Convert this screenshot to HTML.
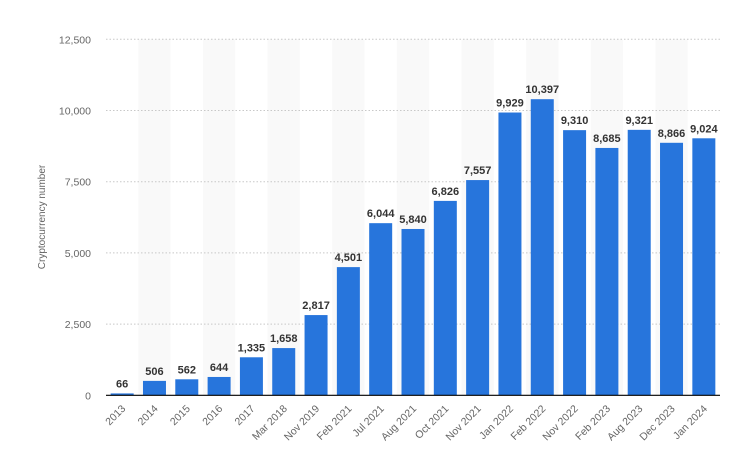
<!DOCTYPE html>
<html><head><meta charset="utf-8"><style>
body{margin:0;background:#fff;font-family:"Liberation Sans",sans-serif}
</style></head><body>
<svg id="chart" width="732" height="469" xmlns="http://www.w3.org/2000/svg"></svg>
<script>
const categories=["2013","2014","2015","2016","2017","Mar 2018","Nov 2019","Feb 2021","Jul 2021","Aug 2021","Oct 2021","Nov 2021","Jan 2022","Feb 2022","Nov 2022","Feb 2023","Aug 2023","Dec 2023","Jan 2024"];
const values=[66,506,562,644,1335,1658,2817,4501,6044,5840,6826,7557,9929,10397,9310,8685,9321,8866,9024];
const yTicks=[0,2500,5000,7500,10000,12500];
const yTickLabels=["0","2,500","5,000","7,500","10,000","12,500"];
const svg=document.getElementById('chart');
const NS="http://www.w3.org/2000/svg";
const x0=106,x1=720,yBase=395.3,yTop=39.3,yMax=12500;
const band=(x1-x0)/categories.length,bw=23;
function y(v){return yBase-(v/yMax)*(yBase-yTop);}
function xc(i){return x0+band*(i+0.5);}
function mk(t,a,txt){const e=document.createElementNS(NS,t);for(const k in a)e.setAttribute(k,a[k]);if(txt!==undefined)e.textContent=txt;svg.appendChild(e);return e;}
categories.forEach((c,i)=>{if(i%2===1){const r=mk('rect',{x:x0+band*i,y:yTop,width:band,height:yBase-yTop,fill:'#f9f9f9'});

}});
yTicks.forEach((t,i)=>{
 if(t>0){const l=mk('line',{x1:x0,x2:x1,y1:y(t),y2:y(t),stroke:'#c8c8c8','stroke-dasharray':'1.5,2'});
 
 }
 const tx=mk('text',{x:91,y:y(t)+4,'text-anchor':'end','font-size':'10.5',fill:'#666'},yTickLabels[i]);
 
 
});
values.forEach((v,i)=>{
 const r=mk('rect',{x:xc(i)-bw/2,y:y(v),width:bw,height:yBase-y(v),fill:'#2775dc'});
 
 
 const t=mk('text',{x:xc(i),y:y(v)-6,'text-anchor':'middle','font-size':'11','font-weight':'bold',fill:'#333'},v.toLocaleString('en-US'));
 
 
 const xl=mk('text',{x:xc(i)+4,y:yBase+14,'text-anchor':'end','font-size':'10.5',fill:'#666',transform:`rotate(-45 ${xc(i)+4} ${yBase+14})`},categories[i]);
 
 
});
const ax=mk('line',{x1:x0,x2:x1,y1:yBase,y2:yBase,stroke:'#000','stroke-width':1.2});


const yt=mk('text',{x:45,y:217,'text-anchor':'middle','font-size':'10',fill:'#666',transform:'rotate(-90 45 217)'},'Cryptocurrency number');


</script>
</body></html>
